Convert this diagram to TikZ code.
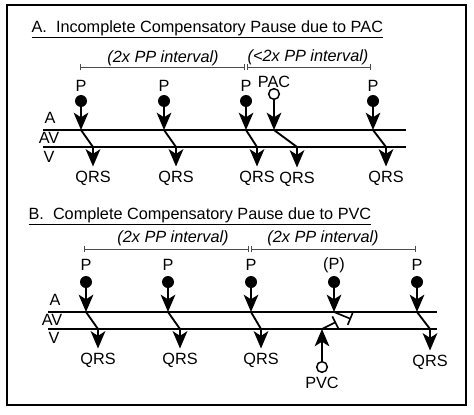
\documentclass[tikz,border=0pt]{standalone}
\usepackage{fontspec}
\setmainfont{Liberation Sans}
\usetikzlibrary{arrows.meta}
\tikzset{>={Stealth[length=13pt,width=11pt,inset=3.5pt]}}

\begin{document}
\begin{tikzpicture}[x=0.75pt,y=-0.75pt,
    every node/.style={font=\fontsize{12.2}{14}\selectfont, inner sep=1pt},
    beat/.style={circle, fill, inner sep=0pt, minimum size=9pt},
    ectopic/.style={circle, draw, line width=1.1pt, inner sep=0pt, minimum size=8pt},
    rail/.style={line width=1.5pt},
    cond/.style={line width=1.4pt},
    span/.style={line width=0.5pt, black!70, {Bar[width=5pt]}-{Bar[width=5pt]}},
    blocked/.style={line width=1.2pt, -{Bar[width=10pt]}},
    interval/.style={font=\fontsize{12.2}{14}\selectfont\itshape}]
  \useasboundingbox (0,0) rectangle (474,414);
  \draw[line width=1.4pt] (7,5) rectangle (466,405);

  % panel A: PAC
  \node[anchor=base west] (titleA) at (30,32) {\underline{A.\ \ Incomplete Compensatory Pause due to PAC}};
  \coordinate (sa0) at (80,67);
  \coordinate (sa1) at (245,67);
  \coordinate (sa2) at (247,67);
  \coordinate (sa3) at (371,67);
  \draw[span] (sa0) -- (sa1);
  \draw[span] (sa2) -- (sa3);
  \node[interval] (ia1) at (163,58) {(2x PP interval)};
  \node[interval] (ia2) at (308,57) {(<2x PP interval)};

  \coordinate (railAw) at (43,130);
  \coordinate (railAe) at (406,130);
  \coordinate (railVw) at (43,147);
  \coordinate (railVe) at (406,147);
  \draw[rail] (railAw) -- (railAe);
  \draw[rail] (railVw) -- (railVe);
  \node (labA) at (50,118) {A};
  \node (labAV) at (49,138) {AV};
  \node (labV) at (49,157) {V};

  \foreach \i/\x/\dx in {1/81/12, 2/164/12, 3/246/11, 4/373/13} {
    \node (pA\i) at (\x,86) {P};
    \node[beat] (sA\i) at (\x,101) {};
    \coordinate (aA\i) at (\x,130);
    \coordinate (vA\i) at (\x+\dx,147);
    \node (qA\i) at (\x+\dx,178) {QRS};
    \draw[->, cond] (sA\i) -- (aA\i);
    \draw[cond] (aA\i) -- (vA\i);
    \draw[->, cond] (vA\i) -- ([yshift=2pt]qA\i.north);
  }
  \node (pac) at (274,82) {PAC};
  \node[ectopic] (sPAC) at (274,94) {};
  \coordinate (aPAC) at (274,130);
  \coordinate (vPAC) at (297,147);
  \node (qPAC) at (297,179) {QRS};
  \draw[->, cond] (sPAC) -- (aPAC);
  \draw[cond] (aPAC) -- (vPAC);
  \draw[->, cond] (vPAC) -- ([yshift=2pt]qPAC.north);

  % panel B: PVC
  \node[anchor=base west] (titleB) at (27,219) {\underline{B.\ \ Complete Compensatory Pause due to PVC}};
  \coordinate (sb0) at (84,249);
  \coordinate (sb1) at (249,249);
  \coordinate (sb2) at (251,249);
  \coordinate (sb3) at (416,249);
  \draw[span] (sb0) -- (sb1);
  \draw[span] (sb2) -- (sb3);
  \node[interval] (ib1) at (173,238) {(2x PP interval)};
  \node[interval] (ib2) at (323,238) {(2x PP interval)};

  \coordinate (railBAw) at (48,312);
  \coordinate (railBAe) at (437,312);
  \coordinate (railBVw) at (48,329);
  \coordinate (railBVe) at (437,329);
  \draw[rail] (railBAw) -- (railBAe);
  \draw[rail] (railBVw) -- (railBVe);
  \node (labBA) at (55,300) {A};
  \node (labBAV) at (52,320) {AV};
  \node (labBV) at (54,338) {V};

  \foreach \i/\x/\dx/\qy in {1/86/12/360, 2/168/12/360, 3/251/10/360, 5/417/13/362} {
    \node (pB\i) at (\x,265) {P};
    \node[beat] (sB\i) at (\x,282) {};
    \coordinate (aB\i) at (\x,312);
    \coordinate (vB\i) at (\x+\dx,329);
    \node (qB\i) at (\x+\dx,\qy) {QRS};
    \draw[->, cond] (sB\i) -- (aB\i);
    \draw[cond] (aB\i) -- (vB\i);
    \draw[->, cond] (vB\i) -- ([yshift=2pt]qB\i.north);
  }
  \node (pB4) at (334,265) {(P)};
  \node[beat] (sB4) at (334,282) {};
  \coordinate (aB4) at (334,312);
  \coordinate (bP) at (351,319);
  \draw[->, cond] (sB4) -- (aB4);
  \draw[blocked] (aB4) -- (bP);

  \node[ectopic] (sPVC) at (322,367) {};
  \node (pvc) at (322,383) {PVC};
  \coordinate (vPVC) at (322,329);
  \coordinate (bV) at (336,322);
  \draw[->, cond] (sPVC) -- (vPVC);
  \draw[blocked] (vPVC) -- (bV);
\end{tikzpicture}
\end{document}
